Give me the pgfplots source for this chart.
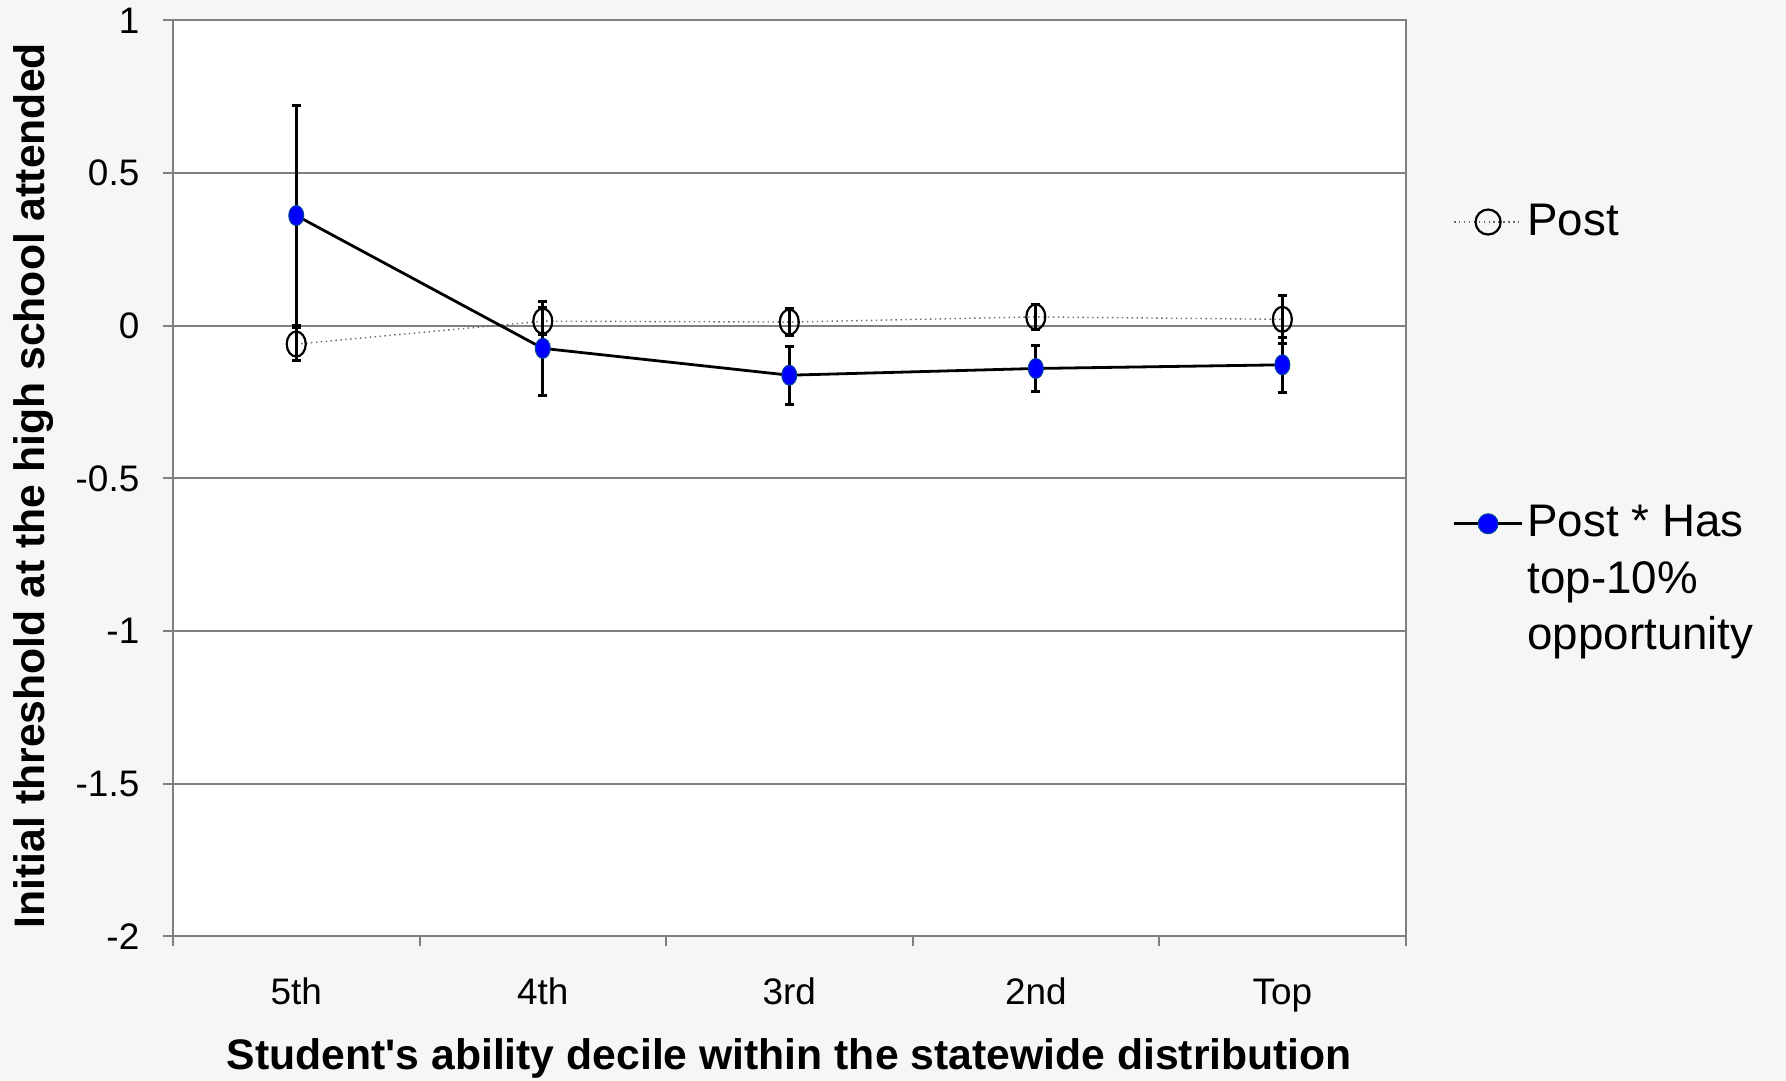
\documentclass[border=0pt]{standalone}
\usepackage{fontspec}
\setmainfont{Liberation Sans}[Ligatures=TeXOff]
\usepackage{pgfplots}
\pgfplotsset{compat=1.18}
\usetikzlibrary{backgrounds}
\definecolor{gridgray}{RGB}{128,128,128}
\definecolor{bggray}{RGB}{246,246,246}
\definecolor{markblue}{RGB}{0,0,255}
\definecolor{markedge}{RGB}{0,70,150}
\begin{document}
\begin{tikzpicture}
\begin{axis}[
  name=ax,
  scale only axis,
  width=123.26mm, height=91.58mm,
  xmin=0, xmax=5, ymin=-2, ymax=1,
  xtick={0,1,2,3,4,5}, xticklabels={},
  extra x ticks={0.5,1.5,2.5,3.5,4.5},
  extra x tick labels={5th,4th,3rd,2nd,Top},
  extra x tick style={tick style={draw=none}},
  ytick={-2,-1.5,-1,-0.5,0,0.5,1},
  yticklabels={-2,-1.5,-1,-0.5,0,0.5,1},
  ymajorgrids,
  major grid style={gridgray, line width=0.2mm},
  axis line style={gridgray, line width=0.2mm},
  tick style={gridgray, line width=0.2mm},
  major tick length=1mm,
  tick align=outside,
  xtick pos=bottom, ytick pos=left,
  axis background/.style={fill=white},
  /pgf/number format/assume math mode=true,
  ticklabel style={font=\fontsize{10.5}{12}\selectfont, inner sep=0pt},
  xticklabel style={anchor=base, yshift=-5.8mm},
  yticklabel style={anchor=east, xshift=-2.3mm},
  xlabel={Student's ability decile within the statewide distribution},
  ylabel={Initial threshold at the high school attended},
  every axis x label/.style={at={(axis description cs:0.5,-0.1452)}, anchor=base, inner sep=0pt, font=\bfseries\fontsize{12.15}{14}\selectfont},
  every axis y label/.style={at={(axis description cs:-0.1133,0.492)}, rotate=90, anchor=center, inner sep=0pt, font=\bfseries\fontsize{12.15}{14}\selectfont},
  legend style={at={(axis description cs:1,1)}, anchor=north west, xshift=4.64mm, yshift=-18.25mm,
    draw=none, fill=none, inner sep=0pt, row sep=26.5mm, column sep=0.4mm,
    font=\fontsize{13}{16.1}\selectfont, nodes={inner sep=0pt}},
  legend cell align=left,
  legend image code/.code={\draw[mark repeat=2,mark phase=2,#1,every mark/.append style={xscale=1.32}] plot coordinates {(0mm,0mm)(3.4mm,0mm)(6.8mm,0mm)};},
]
\addplot[densely dotted, black!60, line width=0.4pt,
  mark=o, mark size=1.25mm, mark options={solid, black, line width=0.22mm, xscale=0.76},
  error bars/.cd, y dir=both, y explicit,
  error bar style={solid, black, line width=0.3mm},
  error mark options={solid, black, rotate=90, mark size=0.45mm, line width=0.3mm}]
coordinates {
(0.5,-0.060) +- (0,0.053)
(1.5,0.015) +- (0,0.045)
(2.5,0.012) +- (0,0.043)
(3.5,0.029) +- (0,0.040)
(4.5,0.021) +- (0,0.079)
};
\addlegendentry{Post}
\addplot[solid, black, line width=0.28mm,
  mark=*, mark size=1.0mm, mark options={fill=markblue, draw=markedge, line width=0.1mm, xscale=0.75},
  error bars/.cd, y dir=both, y explicit,
  error bar style={black, line width=0.3mm},
  error mark options={black, rotate=90, mark size=0.45mm, line width=0.3mm}]
coordinates {
(0.5,0.361) +- (0,0.361)
(1.5,-0.074) +- (0,0.155)
(2.5,-0.162) +- (0,0.095)
(3.5,-0.140) +- (0,0.075)
(4.5,-0.128) +- (0,0.090)
};
\addlegendentry{\parbox[t]{24mm}{\raggedright Post * Has\\top-10\%\\opportunity}}
\end{axis}
\begin{scope}[on background layer]
\fill[bggray] ([xshift=-17.3mm,yshift=-14.47mm]ax.south west) rectangle ([xshift=38.04mm,yshift=2.05mm]ax.north east);
\end{scope}
\end{tikzpicture}
\end{document}
